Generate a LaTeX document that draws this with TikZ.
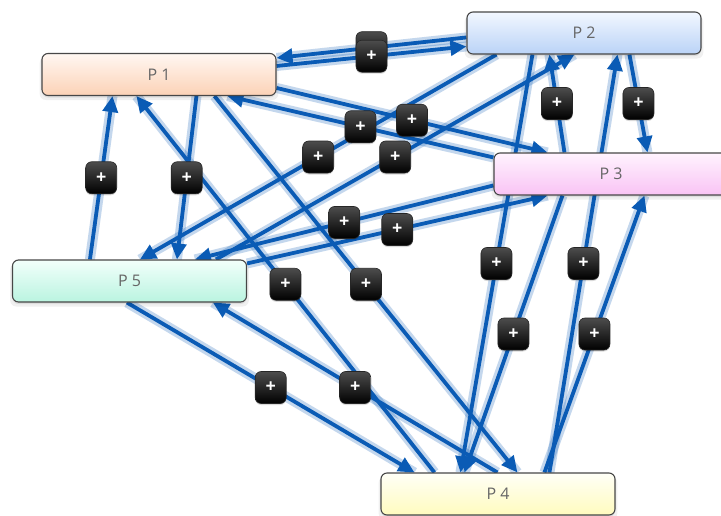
\documentclass[tikz,border=0pt]{standalone}
\usepackage{fontspec}
\setmainfont{Open Sans}
\usetikzlibrary{arrows.meta,calc,shadows}
\pgfdeclarelayer{bg}
\pgfdeclarelayer{edges}
\pgfdeclarelayer{marks}
\pgfsetlayers{bg,edges,marks,main}
\definecolor{edgeblue}{HTML}{0A5BB5}
\definecolor{p1top}{HTML}{FFF7F2}\definecolor{p1bot}{HTML}{FCD2B6}
\definecolor{p2top}{HTML}{F2F7FF}\definecolor{p2bot}{HTML}{BAD3F7}
\definecolor{p3top}{HTML}{FFF3FE}\definecolor{p3bot}{HTML}{F9C3F4}
\definecolor{p4top}{HTML}{FFFFF7}\definecolor{p4bot}{HTML}{FFFBBE}
\definecolor{p5top}{HTML}{F2FFFB}\definecolor{p5bot}{HTML}{BAF4E0}
\tikzset{
  proc/.style={rectangle, rounded corners=6pt, draw=black!72, line width=1.1pt,
    minimum width=234pt, minimum height=42pt, inner sep=0pt,
    font=\fontsize{16}{18}\selectfont, text=black!60,
    general shadow={fill=black, opacity=0.06, shadow yshift=-4pt, shadow scale=1.02},
    general shadow={fill=black, opacity=0.08, shadow yshift=-2pt}},
  glow/.style={line width=10pt, draw=edgeblue, opacity=0.24},
  link/.style={line width=3.8pt, draw=edgeblue, -{Triangle[length=16pt,width=15pt]}},
  plusmark/.style={rectangle, rounded corners=6pt, minimum width=31pt, minimum height=32pt,
    inner sep=0pt, top color=black!70, bottom color=black, draw=black!85, line width=0.6pt,
    text=white, font=\bfseries\fontsize{18}{18}\selectfont,
    general shadow={fill=black, opacity=0.15, shadow yshift=-1.5pt}}
}
\begin{document}
\begin{tikzpicture}[x=1pt,y=-1pt]
\useasboundingbox (0,0) rectangle (721,515);
\begin{pgfonlayer}{bg}
\fill[white] (0,0) rectangle (721,515);
\end{pgfonlayer}

\node[proc, top color=p1top, bottom color=p1bot] (P1) at (159,74.5) {P 1};
\node[proc, top color=p2top, bottom color=p2bot] (P2) at (584,33) {P 2};
\node[proc, top color=p3top, bottom color=p3bot] (P3) at (611,174) {P 3};
\node[proc, top color=p4top, bottom color=p4bot] (P4) at (498,494) {P 4};
\node[proc, top color=p5top, bottom color=p5bot] (P5) at (129.5,281) {P 5};

% P1 ports
\coordinate (p1b1) at ($(P1.south west)+(71,0)$);
\coordinate (p1b2) at ($(P1.south west)+(95,0)$);
\coordinate (p1b3) at ($(P1.south west)+(155,0)$);
\coordinate (p1b4) at ($(P1.south west)+(173,0)$);
\coordinate (p1b5) at ($(P1.south west)+(186,0)$);
\coordinate (p1r1) at ($(P1.north east)+(0,5)$);
\coordinate (p1r2) at ($(P1.north east)+(0,13)$);
\coordinate (p1r3) at ($(P1.north east)+(0,35)$);
% P2 ports
\coordinate (p2l1) at ($(P2.north west)+(0,26)$);
\coordinate (p2l2) at ($(P2.north west)+(0,35)$);
\coordinate (p2b1) at ($(P2.south west)+(30,0)$);
\coordinate (p2b2) at ($(P2.south west)+(66,0)$);
\coordinate (p2b3) at ($(P2.south west)+(83,0)$);
\coordinate (p2b4) at ($(P2.south west)+(108,0)$);
\coordinate (p2b5) at ($(P2.south west)+(151,0)$);
\coordinate (p2b6) at ($(P2.south west)+(163,0)$);
% P3 ports
\coordinate (p3t1) at ($(P3.north west)+(54,0)$);
\coordinate (p3t2) at ($(P3.north west)+(71,0)$);
\coordinate (p3t3) at ($(P3.north west)+(154,0)$);
\coordinate (p3l1) at ($(P3.north west)+(0,5)$);
\coordinate (p3l2) at ($(P3.north west)+(0,33)$);
\coordinate (p3b1) at ($(P3.south west)+(54,0)$);
\coordinate (p3b2) at ($(P3.south west)+(69,0)$);
\coordinate (p3b3) at ($(P3.south west)+(151,0)$);
% P4 ports
\coordinate (p4t1) at ($(P4.north west)+(34,0)$);
\coordinate (p4t2) at ($(P4.north west)+(54,0)$);
\coordinate (p4t3) at ($(P4.north west)+(80,0)$);
\coordinate (p4t4) at ($(P4.north west)+(84,0)$);
\coordinate (p4t5) at ($(P4.north west)+(117,0)$);
\coordinate (p4t6) at ($(P4.north west)+(137,0)$);
\coordinate (p4t7) at ($(P4.north west)+(164,0)$);
\coordinate (p4t8) at ($(P4.north west)+(169,0)$);
% P5 ports
\coordinate (p5t1) at ($(P5.north west)+(78,0)$);
\coordinate (p5t2) at ($(P5.north west)+(128,0)$);
\coordinate (p5t3) at ($(P5.north west)+(165,0)$);
\coordinate (p5t4) at ($(P5.north west)+(183,0)$);
\coordinate (p5t5) at ($(P5.north west)+(204,0)$);
\coordinate (p5r1) at ($(P5.north east)+(0,4)$);
\coordinate (p5b1) at ($(P5.south west)+(115,0)$);
\coordinate (p5b2) at ($(P5.south west)+(201,0)$);

\def\edgelist{p2l1/p1r1, p1r2/p2l2, p1r3/p3t1, p3l1/p1b5, p1b3/p5t3, p5t1/p1b1,
  p1b4/p4t6, p4t2/p1b2, p2b6/p3t3, p3t2/p2b3, p2b2/p4t3, p4t8/p2b5,
  p2b1/p5t2, p5t5/p2b4, p3b2/p4t4, p4t7/p3b3, p3l2/p5t4, p5r1/p3b1,
  p5b1/p4t1, p4t5/p5b2}

\begin{pgfonlayer}{edges}
\foreach \a/\b in \edgelist { \draw[glow] (\a) -- (\b); }
\foreach \a/\b in \edgelist { \draw[link] (\a) -- (\b); }
\end{pgfonlayer}
\begin{pgfonlayer}{marks}
\foreach \a/\b in \edgelist { \path (\a) -- node[plusmark] {+} (\b); }
\end{pgfonlayer}
\end{tikzpicture}
\end{document}
